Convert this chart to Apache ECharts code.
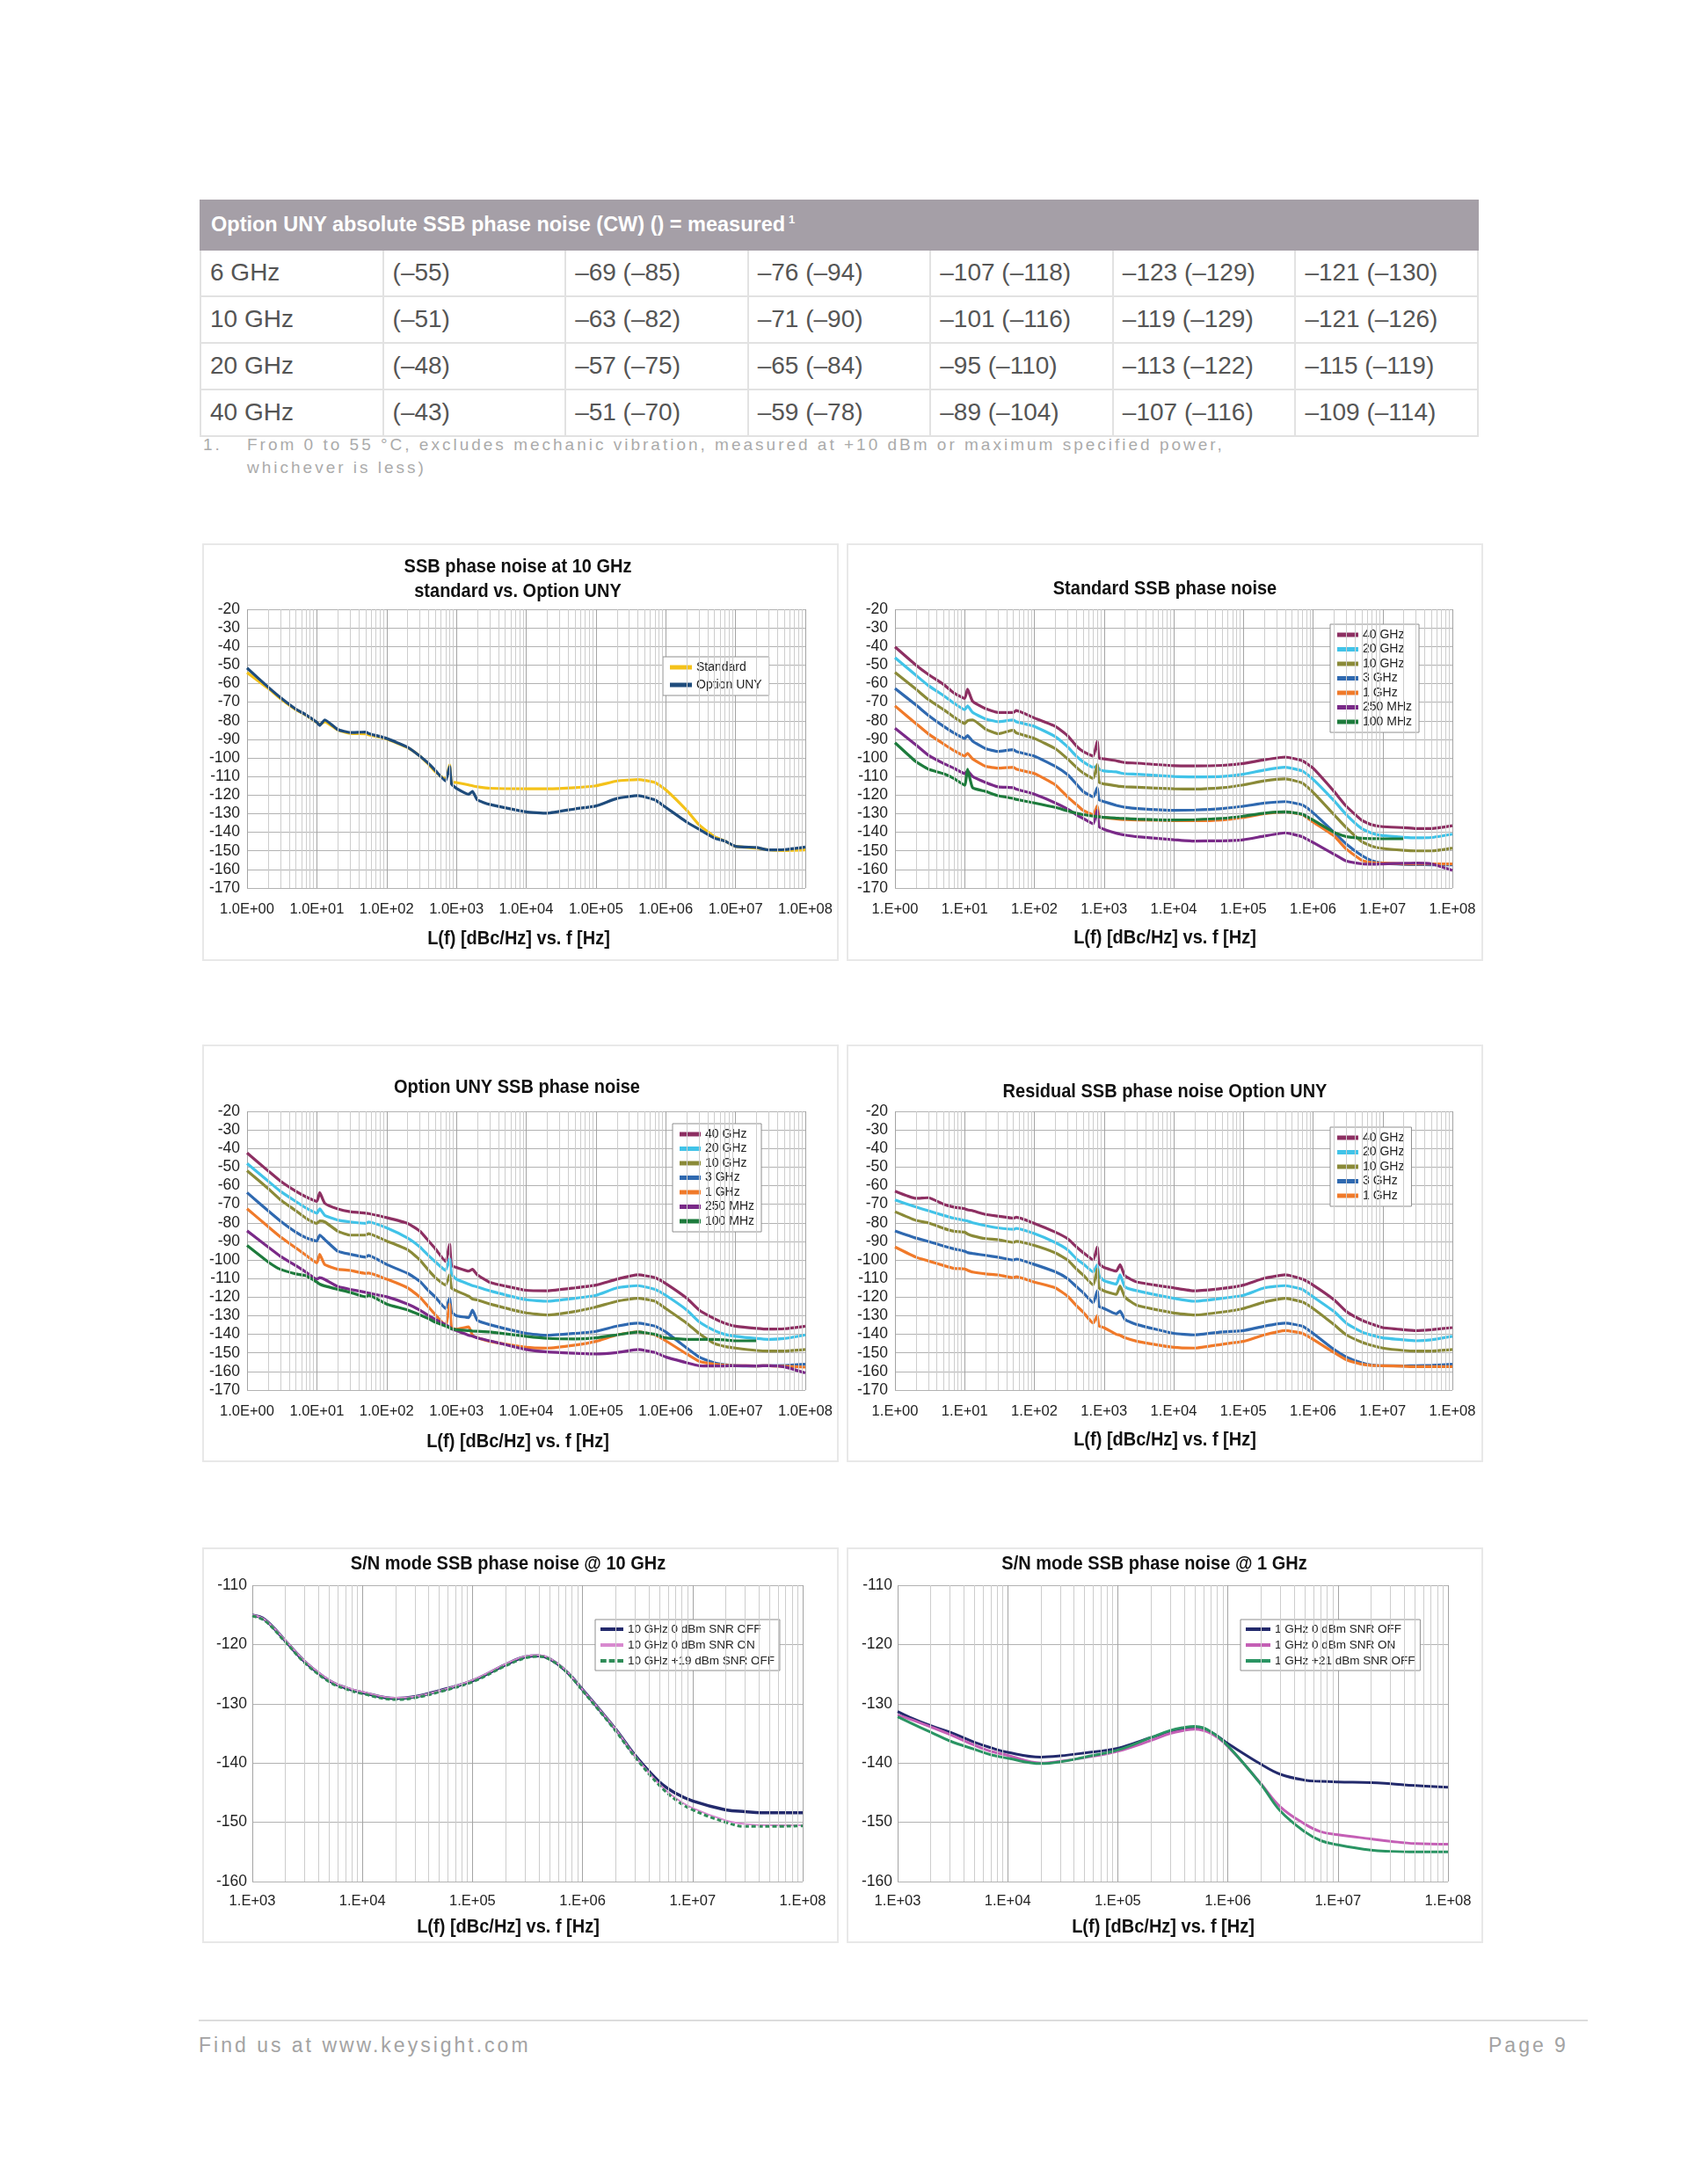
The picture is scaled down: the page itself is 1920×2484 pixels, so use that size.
<!DOCTYPE html>
<html>
<head>
<meta charset="utf-8">
<script src="https://cdn.jsdelivr.net/npm/echarts@6/dist/echarts.min.js"></script>
<style>
  html, body { margin:0; padding:0; background:#fff; }
  body { width:1920px; height:2484px; position:relative; font-family:"Liberation Sans", Arial, sans-serif; }
  #tbl { position:absolute; left:227px; top:227px; width:1455px; border-collapse:collapse; table-layout:fixed; }
  #tbl th { background:#a59fa7; color:#fff; font-weight:bold; font-size:23.5px; text-align:left; padding:0 0 0 11px; height:53.5px; border:2px solid #a59fa7; }
  #tbl th sup { font-size:13px; vertical-align:9px; margin-left:4px; }
  #tbl td { font-size:28px; color:#555; padding:0 0 0 10px; border:2px solid #e2e2e2; height:51px; white-space:nowrap; }
  .note { position:absolute; color:#ababab; font-size:19px; letter-spacing:3px; white-space:nowrap; }
  .panel { position:absolute; box-sizing:border-box; border:2px solid #e8e8e8; background:#fff; }
  #footline { position:absolute; left:226px; top:2297px; width:1580px; height:0; border-top:2px solid #dcdcdc; }
  .foot { position:absolute; top:2313px; font-size:23px; letter-spacing:3px; color:#a3a3a3; white-space:nowrap; }
</style>
</head>
<body>
<table id="tbl"></table>
<div class="note" style="left:231px;top:495px;">1.</div>
<div class="note" style="left:281px;top:495px;">From 0 to 55 °C, excludes mechanic vibration, measured at +10 dBm or maximum specified power,</div>
<div class="note" style="left:281px;top:521px;">whichever is less)</div>

<div class="panel" id="c1" style="left:230px;top:618px;width:724px;height:475px;"></div>
<div class="panel" id="c2" style="left:963px;top:618px;width:724px;height:475px;"></div>
<div class="panel" id="c3" style="left:230px;top:1188px;width:724px;height:475px;"></div>
<div class="panel" id="c4" style="left:963px;top:1188px;width:724px;height:475px;"></div>
<div class="panel" id="c5" style="left:230px;top:1760px;width:724px;height:450px;"></div>
<div class="panel" id="c6" style="left:963px;top:1760px;width:724px;height:450px;"></div>

<div id="footline"></div>
<div class="foot" style="left:226px;">Find us at www.keysight.com</div>
<div class="foot" style="left:1693px;">Page 9</div>

<script>
// ---------------- table data ----------------
const tableTitle = 'Option UNY absolute SSB phase noise (CW) () = measured';
const tableRows = ['6 GHz', '10 GHz', '20 GHz', '40 GHz'];
const tableValues = [
  ['(–55)', '–69 (–85)', '–76 (–94)', '–107 (–118)', '–123 (–129)', '–121 (–130)'],
  ['(–51)', '–63 (–82)', '–71 (–90)', '–101 (–116)', '–119 (–129)', '–121 (–126)'],
  ['(–48)', '–57 (–75)', '–65 (–84)', '–95 (–110)', '–113 (–122)', '–115 (–119)'],
  ['(–43)', '–51 (–70)', '–59 (–78)', '–89 (–104)', '–107 (–116)', '–109 (–114)']
];

// ---------------- chart data ----------------
// offset frequency grid (Hz) for the four 1 Hz .. 100 MHz charts
const F = [1, 2, 3, 5, 7, 10, 11, 13, 20, 30, 50, 55, 100, 200, 300, 400, 500, 700, 800, 850,
           1000, 1500, 1700, 2000, 3000, 1e4, 2e4, 5e4, 1e5, 2e5, 4e5, 7e5, 1e6, 2e6, 3e6,
           5e6, 7e6, 1e7, 2e7, 3e7, 5e7, 1e8];

// Chart 1: SSB phase noise at 10 GHz, standard vs. Option UNY
const c1Std = [-54.0, -62.5, -68.0, -74.0, -77.0, -81.0, -82.0, -80.5, -85.0, -86.8,
  -87.0, -87.5, -89.8, -94.5, -99.0, -103.5, -107.5, -111.5, -103.7, -113.0,
  -113.2, -114.5, -115.0, -115.5, -116.3, -116.6, -116.6, -116.0, -115.0, -112.4,
  -111.6, -113.2, -117.1, -128.2, -136.0, -142.4, -144.7, -147.6, -148.5, -149.5, -149.8, -149.5];
const c1Uny = [-51.6, -61.8, -67.4, -73.7, -76.8, -80.8, -82.5, -79.5, -84.7, -86.3,
  -86.0, -86.8, -89.5, -94.2, -99.0, -103.0, -106.8, -112.4, -104.5, -114.0,
  -116.3, -119.5, -118.0, -122.6, -125.0, -129.0, -129.7, -127.4, -125.8, -121.8,
  -120.3, -122.6, -126.6, -134.5, -138.4, -143.2, -144.7, -147.6, -148.2, -149.5, -149.3, -147.9];

// Chart 2: Standard SSB phase noise
const std40 = [-40.2, -50.0, -55.0, -60.5, -65.0, -68.0, -63.0, -69.5, -73.5, -75.5,
  -75.5, -74.5, -78.5, -83.0, -88.0, -93.5, -96.5, -99.0, -91.0, -100.0,
  -100.5, -101.5, -102.0, -102.5, -102.8, -104.2, -104.3, -104.0, -103.0, -101.0,
  -99.5, -101.5, -105.5, -118.0, -126.0, -133.5, -136.0, -137.0, -137.5, -138.0, -138.0, -136.5];
const std20 = [-46.0, -55.5, -61.0, -66.5, -70.5, -74.0, -72.0, -75.5, -79.0, -80.5,
  -79.5, -80.5, -83.0, -88.5, -94.0, -99.0, -102.0, -105.0, -104.5, -106.0,
  -107.0, -107.5, -108.0, -108.5, -108.8, -110.0, -110.2, -110.0, -108.8, -106.5,
  -105.0, -107.0, -111.5, -123.0, -130.5, -138.0, -140.5, -141.8, -142.7, -143.0, -142.8, -141.0];
const std10 = [-54.0, -63.0, -68.5, -74.0, -78.0, -81.5, -80.0, -79.5, -84.5, -87.0,
  -85.0, -86.5, -89.5, -95.0, -100.5, -105.0, -108.0, -111.0, -103.5, -113.0,
  -114.0, -115.0, -115.3, -115.5, -115.8, -116.6, -116.7, -116.0, -114.5, -112.3,
  -111.3, -113.5, -118.5, -130.5, -137.5, -145.0, -147.5, -148.7, -149.7, -150.0, -150.0, -148.5];
const std3 = [-62.6, -71.5, -77.0, -83.0, -86.5, -89.5, -88.0, -91.0, -95.0, -96.5,
  -95.5, -96.5, -99.0, -104.5, -109.0, -114.0, -118.0, -121.0, -116.0, -122.5,
  -123.5, -125.5, -126.0, -126.5, -127.2, -128.2, -128.0, -127.2, -126.0, -124.3,
  -123.5, -125.3, -129.5, -140.0, -146.3, -152.5, -155.3, -156.6, -157.3, -157.4, -157.5, -157.5];
const std1 = [-72.0, -81.5, -87.0, -92.5, -96.0, -99.0, -97.5, -100.5, -104.5, -105.5,
  -105.0, -106.0, -108.4, -114.5, -121.0, -125.0, -128.2, -130.5, -125.8, -131.5,
  -132.0, -132.8, -133.0, -133.2, -133.4, -133.7, -133.8, -133.4, -132.0, -130.0,
  -129.0, -130.5, -134.5, -142.0, -149.0, -155.0, -156.3, -156.6, -157.0, -157.0, -157.0, -157.0];
const std250 = [-84.0, -93.0, -98.5, -103.0, -105.5, -108.4, -107.0, -110.0, -113.2, -115.5,
  -116.0, -116.8, -119.5, -124.2, -127.5, -130.5, -132.5, -135.5, -128.0, -137.0,
  -138.4, -140.5, -141.0, -141.5, -142.4, -144.0, -144.7, -144.6, -144.0, -142.0,
  -140.3, -142.4, -145.5, -151.8, -155.5, -157.0, -157.2, -157.0, -156.7, -156.6, -157.0, -160.5];
const std100 = [-91.8, -102.0, -106.0, -108.5, -111.0, -114.7, -106.0, -116.0, -118.0, -120.3,
  -121.8, -122.3, -124.2, -126.6, -128.5, -129.7, -130.5, -131.3, -131.5, -131.6,
  -132.0, -132.4, -132.5, -132.6, -132.9, -133.4, -133.2, -132.5, -131.3, -129.7,
  -129.0, -130.3, -133.4, -140.0, -142.4, -143.2, -143.4, -143.5, -143.5, null, null, null];

// Chart 3: Option UNY SSB phase noise
const uny40 = [-42.4, -52.0, -57.5, -63.0, -66.0, -68.5, -63.7, -69.5, -72.5, -74.0,
  -74.8, -75.0, -77.2, -80.3, -84.5, -89.8, -94.0, -100.8, -91.4, -103.0,
  -104.0, -106.0, -105.0, -108.0, -112.0, -116.3, -116.6, -115.0, -113.5, -110.3,
  -108.0, -109.5, -112.7, -120.6, -126.9, -131.6, -134.0, -135.6, -136.8, -137.2, -137.0, -135.6];
const uny20 = [-48.0, -57.5, -63.0, -68.5, -72.0, -74.8, -72.5, -76.0, -78.5, -79.5,
  -80.3, -79.5, -82.7, -88.2, -93.0, -97.7, -101.0, -105.6, -99.3, -107.5,
  -110.3, -113.0, -113.8, -114.5, -116.6, -121.4, -122.2, -120.6, -119.0, -115.0,
  -113.8, -115.8, -119.0, -126.9, -133.2, -138.0, -140.0, -141.1, -142.3, -142.7, -142.3, -140.3];
const uny10 = [-51.9, -61.5, -67.5, -73.5, -77.5, -80.3, -79.0, -79.5, -84.5, -86.6,
  -86.6, -85.8, -89.8, -94.5, -100.0, -105.6, -109.5, -113.5, -108.0, -115.0,
  -116.6, -119.5, -121.0, -121.5, -123.7, -128.5, -129.6, -127.7, -125.3, -122.2,
  -120.6, -122.2, -126.1, -134.0, -139.5, -145.0, -146.5, -147.4, -148.7, -149.0, -149.0, -148.2];
const uny3 = [-63.7, -73.5, -79.0, -85.0, -88.0, -89.8, -86.6, -89.0, -95.3, -96.9,
  -98.5, -97.5, -102.4, -107.2, -111.5, -116.6, -120.0, -126.1, -120.6, -128.0,
  -130.0, -131.0, -127.0, -132.5, -134.8, -139.5, -140.6, -139.5, -138.4, -135.6,
  -134.0, -135.6, -138.7, -147.4, -152.2, -155.3, -156.3, -156.9, -157.0, -156.9, -156.8, -156.1];
const uny1 = [-72.4, -82.0, -87.5, -93.5, -97.5, -101.6, -96.9, -102.5, -105.0, -105.6,
  -107.2, -107.0, -110.3, -115.0, -120.0, -125.3, -129.5, -135.3, -123.7, -136.5,
  -137.2, -136.0, -140.5, -141.9, -143.8, -147.0, -147.4, -145.8, -143.8, -140.3,
  -138.7, -140.3, -143.5, -150.6, -154.5, -156.1, -156.6, -156.9, -157.0, -156.9, -157.2, -157.7];
const uny250 = [-84.3, -93.0, -98.0, -103.0, -106.5, -110.3, -109.5, -110.5, -114.3, -115.8,
  -117.4, -117.8, -119.8, -123.7, -127.0, -130.0, -132.0, -134.8, -136.0, -137.0,
  -138.0, -140.5, -141.0, -142.0, -143.5, -148.2, -149.5, -150.2, -150.6, -149.8,
  -148.2, -149.8, -152.2, -155.3, -156.9, -157.0, -157.0, -156.9, -157.0, -156.9, -157.5, -160.8];
const uny100 = [-92.2, -101.0, -105.0, -107.5, -108.5, -111.9, -113.0, -114.0, -115.8, -117.4,
  -119.8, -119.0, -123.7, -126.9, -129.5, -131.6, -133.5, -135.6, -136.5, -137.0,
  -137.5, -138.0, -138.2, -138.4, -138.7, -141.1, -142.2, -142.5, -141.9, -140.3,
  -138.7, -140.0, -141.9, -142.7, -142.7, -142.7, -143.0, -143.5, -143.5, null, null, null];

// Chart 4: Residual SSB phase noise Option UNY
const res40 = [-62.9, -66.8, -66.5, -70.0, -71.5, -72.4, -73.0, -73.5, -75.5, -76.4,
  -77.5, -77.0, -80.3, -85.0, -88.5, -92.9, -96.0, -100.0, -93.0, -102.0,
  -104.0, -106.0, -102.5, -108.6, -111.9, -115.0, -116.6, -115.3, -113.5, -109.8,
  -108.0, -110.3, -113.5, -121.4, -127.7, -132.4, -134.5, -136.4, -137.5, -138.0, -137.5, -136.4];
const res20 = [-67.7, -71.5, -73.5, -76.0, -77.5, -78.7, -79.0, -80.0, -81.5, -82.7,
  -83.5, -83.0, -85.8, -90.6, -94.5, -99.3, -102.0, -106.4, -102.6, -108.5,
  -111.1, -113.0, -108.0, -114.5, -116.6, -120.6, -122.2, -120.6, -119.0, -115.0,
  -113.8, -115.8, -119.8, -127.7, -134.0, -138.7, -140.5, -141.9, -143.0, -143.5, -143.0, -141.1];
const res10 = [-74.0, -78.7, -80.0, -83.0, -84.5, -85.0, -86.0, -87.0, -88.5, -89.0,
  -90.5, -90.0, -92.2, -96.2, -100.0, -104.8, -108.0, -113.5, -104.8, -115.0,
  -116.6, -118.5, -114.0, -120.0, -124.5, -128.5, -129.6, -128.0, -126.1, -122.6,
  -120.6, -122.6, -126.1, -134.8, -140.3, -144.2, -146.0, -147.4, -148.7, -149.0, -149.0, -148.2];
const res3 = [-84.3, -88.2, -90.0, -92.5, -94.0, -95.3, -96.0, -96.5, -97.5, -98.5,
  -100.0, -99.5, -102.4, -106.4, -110.0, -114.3, -117.5, -123.0, -116.6, -125.0,
  -126.1, -129.0, -127.5, -132.0, -134.8, -139.5, -140.3, -138.7, -138.0, -135.6,
  -134.0, -135.6, -139.5, -148.2, -152.2, -155.3, -156.5, -156.9, -157.0, -156.9, -156.7, -156.1];
const res1 = [-93.0, -98.5, -100.5, -103.0, -104.5, -104.8, -105.5, -106.5, -107.5, -108.0,
  -109.5, -109.0, -111.9, -115.0, -119.5, -124.5, -128.0, -134.0, -130.0, -135.5,
  -136.4, -140.0, -140.5, -141.9, -143.8, -147.0, -147.4, -145.3, -143.8, -140.3,
  -138.0, -139.5, -142.7, -149.8, -153.7, -156.1, -156.8, -156.9, -157.2, -157.4, -157.4, -157.4];

// S/N mode charts: offset grid 1 kHz .. 100 MHz
const G = [1e3, 1.3e3, 2e3, 3e3, 5e3, 7e3, 1e4, 2e4, 3e4, 5e4, 1e5, 2e5, 3e5, 4e5, 5e5, 7e5,
           1e6, 2e6, 3e6, 5e6, 7e6, 1e7, 2e7, 3e7, 5e7, 1e8];
const sn10Off = [-115.05, -115.8, -119.4, -122.9, -126.1, -127.3, -128.1, -129.1, -128.8, -127.8, -126.1, -123.4, -122.1,
  -121.9, -122.4, -124.4, -127.6, -134.3, -138.7, -143.2, -145.1, -146.4, -147.9, -148.2, -148.4, -148.4];
const sn10On = [-115.0, -115.8, -119.3, -122.8, -126.0, -127.2, -128.0, -129.0, -128.8, -127.8, -126.0, -123.3, -122.0,
  -121.8, -122.3, -124.3, -127.6, -134.3, -138.8, -143.6, -145.9, -147.6, -149.7, -150.3, -150.5, -150.5];
const sn10Hi = [-115.2, -116.0, -119.6, -123.1, -126.3, -127.5, -128.3, -129.3, -129.0, -128.0, -126.3, -123.6, -122.3,
  -122.0, -122.5, -124.5, -127.8, -134.6, -139.0, -143.8, -146.2, -147.9, -150.0, -150.7, -150.7, -150.6];
const sn1Off = [-131.3, -132.3, -133.7, -134.8, -136.5, -137.4, -138.2, -139.0, -138.8, -138.3, -137.5, -135.7, -134.8,
  -134.3, -134.2, -134.8, -136.7, -140.2, -141.9, -142.9, -143.1, -143.2, -143.3, -143.5, -143.8, -144.1];
const sn1On = [-131.9, -132.6, -133.9, -135.2, -137.0, -138.0, -138.7, -140.0, -139.7, -139.1, -138.0, -136.2, -135.0,
  -134.5, -134.3, -135.0, -137.2, -143.5, -147.4, -150.3, -151.6, -152.1, -152.8, -153.2, -153.6, -153.7];
const sn1Hi = [-132.2, -133.2, -134.8, -136.3, -137.7, -138.6, -139.2, -140.1, -139.8, -139.0, -137.8, -135.7, -134.5,
  -134.0, -133.8, -134.7, -137.1, -143.6, -148.1, -151.6, -153.1, -153.8, -154.7, -154.9, -155.0, -155.0];

// legend names / colours
const carrierNames = ['40 GHz', '20 GHz', '10 GHz', '3 GHz', '1 GHz', '250 MHz', '100 MHz'];
const carrierColors = ['#8d2f62', '#41c3e8', '#8a8a38', '#2f69b0', '#f07a2a', '#7a2a88', '#1d7b3c'];

// ---------------- build table ----------------
(function buildTable() {
  const t = document.getElementById('tbl');
  let html = '<tr><th colspan="7">' + tableTitle + '<sup>1</sup></th></tr>';
  tableRows.forEach((r, i) => {
    html += '<tr><td>' + r + '</td>' + tableValues[i].map(v => '<td>' + v + '</td>').join('') + '</tr>';
  });
  t.innerHTML = html;
})();

// ---------------- charts ----------------
const FONT = '"Liberation Sans", Arial, sans-serif';
function sci(pad) {
  return function (v) {
    const e = Math.round(Math.log10(v));
    return (pad ? '1.0E+' : '1.E+') + (e < 10 ? '0' : '') + e;
  };
}
function minorList(k0, k1) {
  const out = [];
  for (let k = k0; k < k1; k++) for (let m = 2; m <= 9; m++) out.push(m * Math.pow(10, k));
  return out;
}
function dashIcon() { return 'path://M0,0h7v4h-7z M10,0h7v4h-7z M20,0h7v4h-7z'; }

function makeChart(id, cfg) {
  const chart = echarts.init(document.getElementById(id), null, { renderer: 'canvas' });
  const series = [{
    type: 'line', data: [], silent: true, z: 1, symbol: 'none',
    markLine: {
      silent: true, symbol: ['none', 'none'], animation: false, label: { show: false },
      emphasis: { disabled: true },
      lineStyle: { color: '#cdcdcd', width: 1, type: 'solid' },
      data: cfg.minor.map(f => ({ xAxis: f }))
    }
  }];
  cfg.series.forEach(s => {
    series.push({
      name: s.name, type: 'line', symbol: 'none', showSymbol: false, z: 3,
      smooth: cfg.smooth, connectNulls: false, animation: false,
      emphasis: { disabled: true },
      data: cfg.x.map((f, i) => [f, s.values[i]]),
      lineStyle: { color: s.color, width: s.width || 3.2, type: s.dash ? [5, 3] : 'solid' },
      itemStyle: { color: s.color }
    });
  });
  const graphic = cfg.titles.map(t => ({
    type: 'text', x: t.x, y: t.y, silent: true, scaleX: 0.93,
    style: { text: t.text, fontFamily: FONT, fontWeight: 'bold', fontSize: t.size, fill: '#111',
             align: 'center', verticalAlign: 'middle', textAlign: 'center', textVerticalAlign: 'middle' }
  }));
  chart.setOption({
    animation: false,
    textStyle: { fontFamily: FONT },
    grid: Object.assign({ outerBoundsMode: 'none', containLabel: false }, cfg.grid),
    xAxis: {
      type: 'log', logBase: 10, min: cfg.xmin, max: cfg.xmax, splitNumber: cfg.splitX,
      axisLine: { show: false }, axisTick: { show: false },
      axisLabel: { formatter: cfg.fmt, fontFamily: FONT, fontSize: 16.5, color: '#222', margin: cfg.xMargin },
      splitLine: { show: true, lineStyle: { color: '#a4a4a4', width: 1 } },
      minorTick: { show: false }, minorSplitLine: { show: false }
    },
    yAxis: {
      type: 'value', min: cfg.ymin, max: cfg.ymax, interval: 10,
      axisLine: { show: false }, axisTick: { show: false },
      axisLabel: { fontFamily: FONT, fontSize: 17.5, color: '#222', margin: cfg.yMargin },
      splitLine: { show: true, lineStyle: { color: '#b2b2b2', width: 1 } }
    },
    legend: Object.assign({
      orient: 'vertical', selectedMode: false, backgroundColor: '#fff',
      borderColor: '#8e8e8e', borderWidth: 1, borderRadius: 0,
      itemWidth: 24, itemHeight: 5,
      textStyle: { fontFamily: FONT, fontSize: 14, color: '#222', lineHeight: 14 },
      data: cfg.series.map(s => ({ name: s.name, icon: s.dash ? dashIcon() : 'rect' }))
    }, cfg.legend),
    graphic: graphic,
    series: series
  });
}

const minorWide = minorList(0, 8);
const minorSN = minorList(3, 8);
const xTitle = 'L(f) [dBc/Hz] vs. f [Hz]';

function carrierSeries(arrays) {
  return arrays.map((a, i) => ({ name: carrierNames[i], color: carrierColors[i], values: a }));
}

// Chart 1
makeChart('c1', {
  x: F, xmin: 1, xmax: 1e8, splitX: 8, ymin: -170, ymax: -20, fmt: sci(true), smooth: 0.15,
  grid: { left: 49, top: 73, width: 635, height: 317 }, xMargin: 16, yMargin: 8, minor: minorWide,
  series: [
    { name: 'Standard', color: '#f4c21a', values: c1Std },
    { name: 'Option UNY', color: '#1f4c7c', values: c1Uny }
  ],
  legend: { left: 522, top: 127, padding: [5, 8, 5, 8], itemGap: 6, itemWidth: 25 },
  titles: [
    { text: 'SSB phase noise at 10 GHz', x: 357, y: 25, size: 21.5 },
    { text: 'standard vs. Option UNY', x: 357, y: 53, size: 21.5 },
    { text: xTitle, x: 358, y: 448, size: 21.5 }
  ]
});

// Chart 2
makeChart('c2', {
  x: F, xmin: 1, xmax: 1e8, splitX: 8, ymin: -170, ymax: -20, fmt: sci(false), smooth: 0.15,
  grid: { left: 53, top: 73, width: 634, height: 317 }, xMargin: 16, yMargin: 8, minor: minorWide,
  series: carrierSeries([std40, std20, std10, std3, std1, std250, std100]),
  legend: { left: 548, top: 90, padding: [5, 8, 5, 8], itemGap: 2.5 },
  titles: [
    { text: 'Standard SSB phase noise', x: 360, y: 50, size: 21.5 },
    { text: xTitle, x: 360, y: 447, size: 21.5 }
  ]
});

// Chart 3
makeChart('c3', {
  x: F, xmin: 1, xmax: 1e8, splitX: 8, ymin: -170, ymax: -20, fmt: sci(true), smooth: 0.15,
  grid: { left: 49, top: 74, width: 635, height: 317 }, xMargin: 16, yMargin: 8, minor: minorWide,
  series: carrierSeries([uny40, uny20, uny10, uny3, uny1, uny250, uny100]),
  legend: { left: 533, top: 88, padding: [5, 8, 5, 8], itemGap: 2.5 },
  titles: [
    { text: 'Option UNY SSB phase noise', x: 356, y: 47, size: 21.5 },
    { text: xTitle, x: 357, y: 450, size: 21.5 }
  ]
});

// Chart 4
makeChart('c4', {
  x: F, xmin: 1, xmax: 1e8, splitX: 8, ymin: -170, ymax: -20, fmt: sci(false), smooth: 0.15,
  grid: { left: 53, top: 74, width: 634, height: 317 }, xMargin: 16, yMargin: 8, minor: minorWide,
  series: carrierSeries([res40, res20, res10, res3, res1]),
  legend: { left: 548, top: 92, padding: [5, 8, 5, 8], itemGap: 2.5 },
  titles: [
    { text: 'Residual SSB phase noise Option UNY', x: 360, y: 52, size: 21.5 },
    { text: xTitle, x: 360, y: 448, size: 21.5 }
  ]
});

// Chart 5
makeChart('c5', {
  x: G, xmin: 1e3, xmax: 1e8, splitX: 5, ymin: -160, ymax: -110, fmt: sci(false), smooth: 0.4,
  grid: { left: 55, top: 41, width: 626, height: 337 }, xMargin: 14, yMargin: 6, minor: minorSN,
  series: [
    { name: '10 GHz 0 dBm SNR OFF', color: '#232a6c', values: sn10Off, width: 3.5 },
    { name: '10 GHz 0 dBm SNR ON', color: '#d889cf', values: sn10On, width: 2 },
    { name: '10 GHz +19 dBm SNR OFF', color: '#2f8c58', values: sn10Hi, width: 3, dash: true }
  ],
  legend: { left: 445, top: 80, padding: [4, 6, 4, 6], itemGap: 4, itemWidth: 26, itemHeight: 4,
            textStyle: { fontFamily: FONT, fontSize: 13.5, color: '#222', lineHeight: 14 } },
  titles: [
    { text: 'S/N mode SSB phase noise @ 10 GHz', x: 346, y: 17, size: 21.5 },
    { text: xTitle, x: 346, y: 430, size: 21.5 }
  ]
});

// Chart 6
makeChart('c6', {
  x: G, xmin: 1e3, xmax: 1e8, splitX: 5, ymin: -160, ymax: -110, fmt: sci(false), smooth: 0.4,
  grid: { left: 56, top: 41, width: 626, height: 337 }, xMargin: 14, yMargin: 6, minor: minorSN,
  series: [
    { name: '1 GHz 0 dBm SNR OFF', color: '#232a6c', values: sn1Off, width: 3 },
    { name: '1 GHz 0 dBm SNR ON', color: '#c45fb5', values: sn1On, width: 3 },
    { name: '1 GHz +21 dBm SNR OFF', color: '#2a9463', values: sn1Hi, width: 3 }
  ],
  legend: { left: 446, top: 80, padding: [4, 6, 4, 6], itemGap: 4, itemWidth: 28, itemHeight: 4,
            textStyle: { fontFamily: FONT, fontSize: 13.5, color: '#222', lineHeight: 14 } },
  titles: [
    { text: 'S/N mode SSB phase noise @ 1 GHz', x: 348, y: 17, size: 21.5 },
    { text: xTitle, x: 358, y: 430, size: 21.5 }
  ]
});
</script>
</body>
</html>
